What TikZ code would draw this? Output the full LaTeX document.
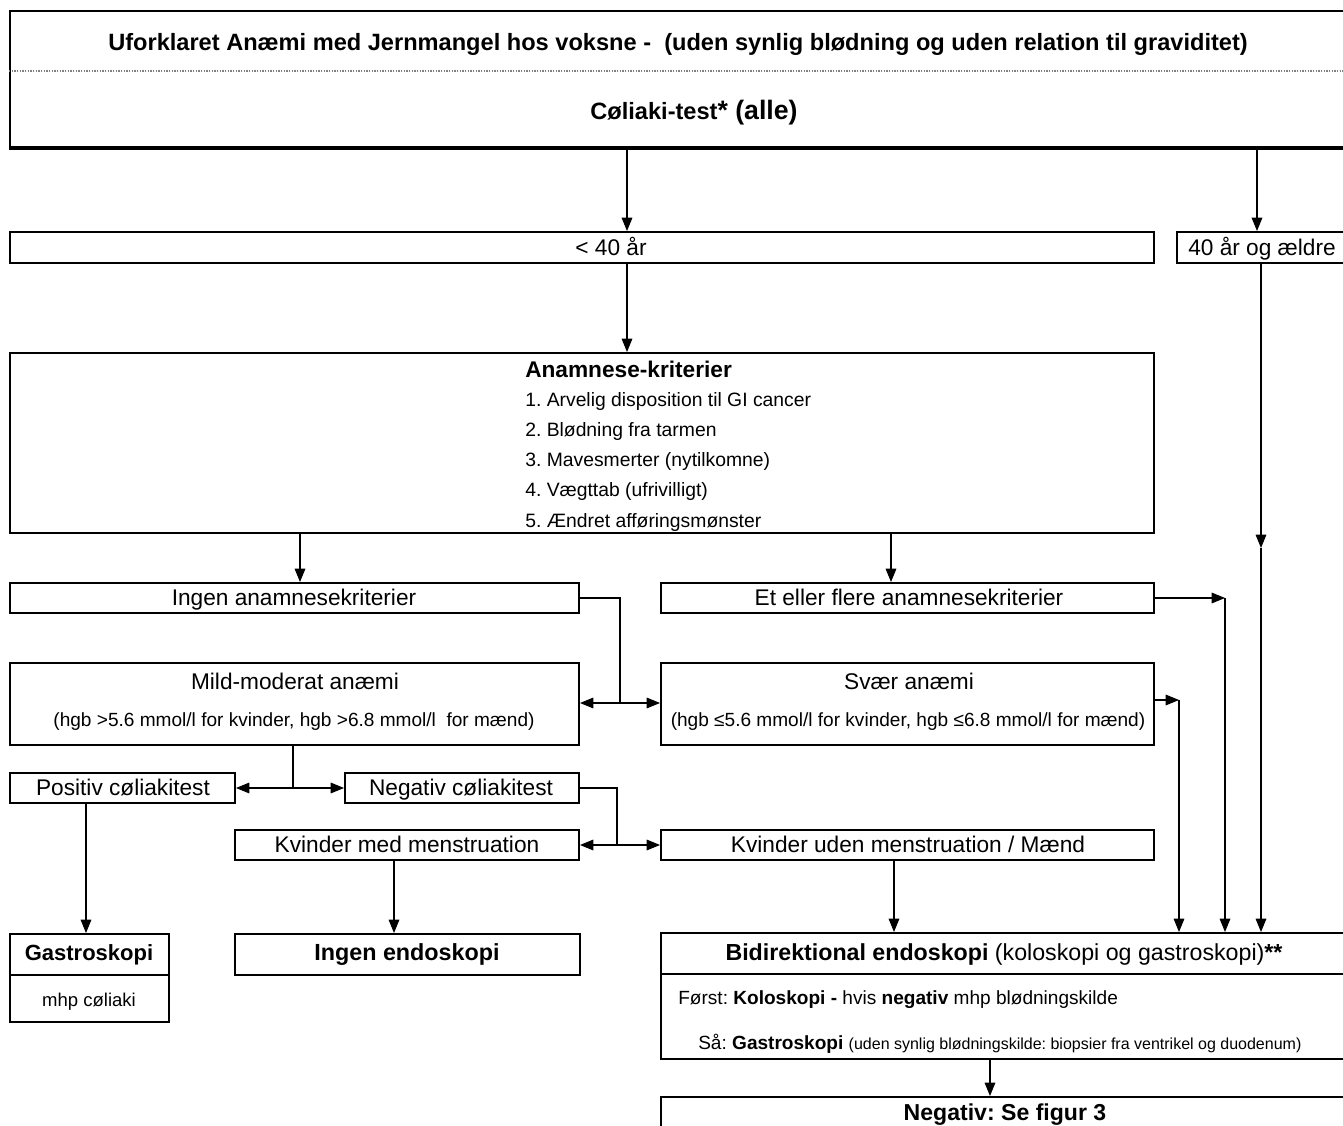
\documentclass[tikz,border=0pt]{standalone}
\usepackage{fontspec}
\setmainfont{Liberation Sans}
\usetikzlibrary{arrows.meta,fit}
\newcommand{\fsN}{\fontsize{17}{20}\selectfont}
\newcommand{\fsH}{\fontsize{17.7}{21}\selectfont}
\newcommand{\fsL}{\fontsize{14.5}{17}\selectfont}
\newcommand{\fsS}{\fontsize{14.3}{17}\selectfont}
\newcommand{\fsT}{\fontsize{12}{14}\selectfont}
\frenchspacing
\begin{document}
\begin{tikzpicture}[x=0.75pt,y=-0.75pt,
  box/.style={draw,line width=1.5pt,inner sep=0pt},
  conn/.style={line width=0.8pt},
  arr/.style={conn,-{Triangle[length=10pt,width=8pt]}},
  darr/.style={conn,{Triangle[length=10pt,width=8pt]}-{Triangle[length=10pt,width=8pt]}},
  txt/.style={inner sep=0pt,anchor=base,yshift=-5.6pt,font=\fsN},
  stxt/.style={inner sep=0pt,anchor=base,yshift=-4.7pt,font=\fsS},
  ltxt/.style={inner sep=0pt,anchor=base west,yshift=-4.7pt,font=\fsL},
]
\useasboundingbox (0,0) rectangle (1343,1126);
\clip (0,0) rectangle (1343,1126);
\fill[white] (0,0) rectangle (1343,1126);

% boxes
\node[box,fit={(10,11) (1370,147)}] (top) {};
\node[box,fit={(10,232) (1154,263)}] (lt40) {};
\node[box,fit={(1177,232) (1370,263)}] (ge40) {};
\node[box,fit={(10,353) (1154,533)}] (anam) {};
\node[box,fit={(10,583) (579,613)}] (ingen) {};
\node[box,fit={(661,583) (1154,613)}] (flere) {};
\node[box,fit={(10,663) (579,745)}] (mild) {};
\node[box,fit={(661,663) (1154,745)}] (svaer) {};
\node[box,fit={(10,773) (235,803)}] (pos) {};
\node[box,fit={(345,773) (579,803)}] (neg) {};
\node[box,fit={(235,830) (579,860)}] (kmed) {};
\node[box,fit={(661,830) (1154,860)}] (kuden) {};
\node[box,fit={(10,934) (169,1022)}] (gastro) {};
\node[box,fit={(235,934) (580,975)}] (ingenendo) {};
\node[box,fit={(661,933) (1370,1059)}] (bidir) {};
\node[box,fit={(661,1097) (1370,1145)}] (negfig) {};

% separators
\draw[line width=2.3pt] (top.south west) -- (top.south east);
\coordinate (sepA) at (0,71);
\draw[gray,line width=0.8pt,dash pattern=on 1pt off 1pt] (top.west |- sepA) -- (top.east |- sepA);
\coordinate (sepB) at (0,975);
\draw[line width=1.5pt] (gastro.west |- sepB) -- (gastro.east |- sepB);
\coordinate (sepC) at (0,974);
\draw[line width=1.5pt] (bidir.west |- sepC) -- (bidir.east |- sepC);

% texts
\node[txt,font=\fsH\bfseries] (t1) at (678,43) {Uforklaret Anæmi med Jernmangel hos voksne -\ \ (uden synlig blødning og uden relation til graviditet)};
\node[txt,font=\fsH\bfseries] (t2) at (694,112) {Cøliaki-test{\fontsize{20}{23}\selectfont* (alle)}};
\node[txt] (t3) at (611,248) {< 40 år};
\node[txt,anchor=base west] (t4) at (1188,248) {40 år og ældre};
\node[txt,anchor=base west,font=\fontsize{17}{20}\selectfont\bfseries,xshift=0pt] (a0) at (525,370) {Anamnese-kriterier};
\node[ltxt] (a1) at (525,400) {1. Arvelig disposition til GI cancer};
\node[ltxt] (a2) at (525,430) {2. Blødning fra tarmen};
\node[ltxt] (a3) at (525,460) {3. Mavesmerter (nytilkomne)};
\node[ltxt] (a4) at (525,490) {4. Vægttab (ufrivilligt)};
\node[ltxt] (a5) at (525,521) {5. Ændret afføringsmønster};
\node[txt] (t5) at (294,598) {Ingen anamnesekriterier};
\node[txt] (t6) at (909,598) {Et eller flere anamnesekriterier};
\node[txt] (t7) at (295,682) {Mild-moderat anæmi};
\node[stxt] (t8) at (294,720) {(hgb >5.6 mmol/l for kvinder, hgb >6.8 mmol/l\ \ for mænd)};
\node[txt] (t9) at (909,682) {Svær anæmi};
\node[stxt] (t10) at (908,720) {(hgb ≤5.6 mmol/l for kvinder, hgb ≤6.8 mmol/l for mænd)};
\node[txt] (t11) at (123,788) {Positiv cøliakitest};
\node[txt] (t12) at (461,788) {Negativ cøliakitest};
\node[txt] (t13) at (407,845) {Kvinder med menstruation};
\node[txt] (t14) at (908,845) {Kvinder uden menstruation / Mænd};
\node[txt,font=\fontsize{16.5}{19}\selectfont\bfseries] (t15) at (89,953) {Gastroskopi};
\node[stxt,font=\fontsize{13.9}{16}\selectfont] (t16) at (89,1000) {mhp cøliaki};
\node[txt,font=\fontsize{17.5}{20}\selectfont\bfseries] (t17) at (407,953) {Ingen endoskopi};
\node[txt,font=\fontsize{17.4}{20}\selectfont] (t18) at (1004,953) {\textbf{Bidirektional endoskopi} (koloskopi og gastroskopi)\textbf{**}};
\node[ltxt,font=\fsS] (t19) at (678,998) {Først: \textbf{Koloskopi -} hvis \textbf{negativ} mhp blødningskilde};
\node[ltxt,font=\fsS] (t20) at (698,1043) {Så: \textbf{Gastroskopi} {\fsT(uden synlig blødningskilde: biopsier fra ventrikel og duodenum)}};
\node[txt,font=\fontsize{17.3}{20}\selectfont\bfseries] (t21) at (1005,1113) {Negativ: Se figur 3};

% connectors
\coordinate (xa) at (627,0);
\coordinate (xb) at (1257,0);
\draw[arr] (top.south -| xa) -- (lt40.north -| xa);
\draw[arr] (top.south -| xb) -- (ge40.north -| xb);
\draw[arr] (lt40.south -| xa) -- (anam.north -| xa);

\coordinate (mid40) at (1261,548);
\draw[arr] (ge40.south -| mid40) -- (mid40);
\draw[arr] (mid40) -- (bidir.north -| mid40);

\coordinate (xc) at (300,0);
\coordinate (xd) at (891,0);
\draw[arr] (anam.south -| xc) -- (ingen.north -| xc);
\draw[arr] (anam.south -| xd) -- (flere.north -| xd);

\coordinate (j1) at (620,703);
\draw[conn] (ingen.east) -| (j1);
\draw[darr] (mild.east |- j1) -- (svaer.west |- j1);

\coordinate (v1) at (1225,598);
\draw[arr] (flere.east) -- (v1);
\draw[arr] (v1) -- (bidir.north -| v1);
\coordinate (v2) at (1179,700);
\draw[arr] (svaer.east |- v2) -- (v2);
\draw[arr] (v2) -- (bidir.north -| v2);

\coordinate (j2) at (293,788);
\draw[conn] (mild.south -| j2) -- (j2);
\draw[darr] (pos.east |- j2) -- (neg.west |- j2);

\coordinate (j3) at (617,845);
\draw[conn] (neg.east) -| (j3);
\draw[darr] (kmed.east |- j3) -- (kuden.west |- j3);

\coordinate (xe) at (86,0);
\coordinate (xf) at (394,0);
\coordinate (xg) at (894,0);
\coordinate (xh) at (990,0);
\draw[arr] (pos.south -| xe) -- (gastro.north -| xe);
\draw[arr] (kmed.south -| xf) -- (ingenendo.north -| xf);
\draw[arr] (kuden.south -| xg) -- (bidir.north -| xg);
\draw[arr] (bidir.south -| xh) -- (negfig.north -| xh);
\end{tikzpicture}
\end{document}
